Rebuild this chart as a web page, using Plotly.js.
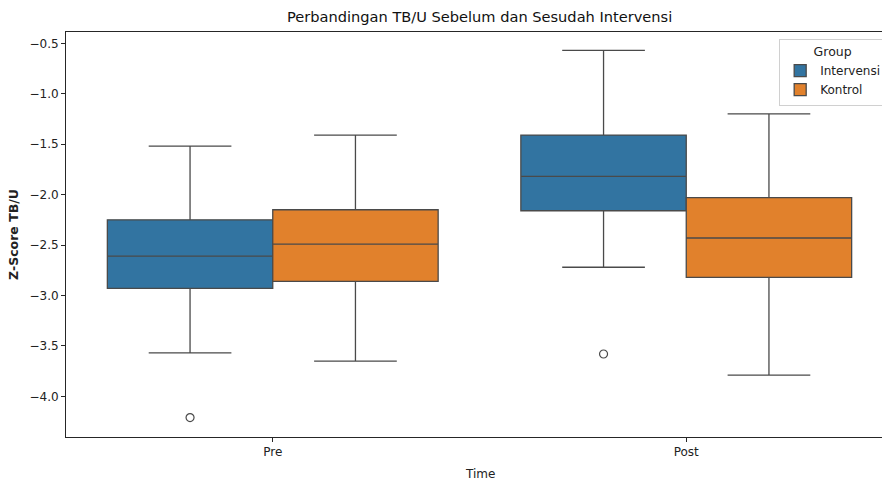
<!DOCTYPE html>
<html>
<head>
<meta charset="utf-8">
<script src="https://cdn.plot.ly/plotly-3.0.1.min.js"></script>
<style>html,body{margin:0;padding:0;background:#fff;}#chart{width:882px;height:483px;}</style>
</head>
<body>
<div id="chart"></div>
<script>
// Data
const times = ['Pre', 'Post'];
const groups = ['Intervensi', 'Kontrol'];
const colors = ['#3274a1', '#e1812c'];

const intervensiUpper = [-1.52, -0.57];
const intervensiQ3    = [-2.25, -1.41];
const intervensiMed   = [-2.61, -1.82];
const intervensiQ1    = [-2.93, -2.16];
const intervensiLower = [-3.57, -2.72];
const intervensiOutlierTime = ['Pre', 'Post'];
const intervensiOutlierVal  = [-4.21, -3.58];

const kontrolUpper = [-1.41, -1.20];
const kontrolQ3    = [-2.15, -2.03];
const kontrolMed   = [-2.49, -2.43];
const kontrolQ1    = [-2.86, -2.82];
const kontrolLower = [-3.65, -3.79];
const kontrolOutlierTime = [];
const kontrolOutlierVal  = [];

const yTickVals = [-4.0, -3.5, -3.0, -2.5, -2.0, -1.5, -1.0, -0.5];
const yTickText = ['\u22124.0', '\u22123.5', '\u22123.0', '\u22122.5', '\u22122.0', '\u22121.5', '\u22121.0', '\u22120.5'];

const stats = [
  {upper: intervensiUpper, q3: intervensiQ3, med: intervensiMed, q1: intervensiQ1, lower: intervensiLower, ot: intervensiOutlierTime, ov: intervensiOutlierVal},
  {upper: kontrolUpper, q3: kontrolQ3, med: kontrolMed, q1: kontrolQ1, lower: kontrolLower, ot: kontrolOutlierTime, ov: kontrolOutlierVal}
];

const lineCol = '#4a4a4a';
const groupWidth = 0.8;
const catIdx = t => times.indexOf(t);
const traces = [];
groups.forEach((g, gi) => {
  const s = stats[gi];
  traces.push({
    type: 'box', name: g, legendgroup: g,
    x: times.map((t, i) => i),
    q1: s.q1, median: s.med, q3: s.q3, lowerfence: s.lower, upperfence: s.upper,
    fillcolor: colors[gi], line: {color: lineCol, width: 1.3},
    whiskerwidth: 0.5, boxpoints: false, hoverinfo: 'y'
  });
});
groups.forEach((g, gi) => {
  const s = stats[gi];
  const off = (gi + 0.5) * (groupWidth / groups.length) - groupWidth / 2;
  traces.push({
    type: 'scatter', mode: 'markers', showlegend: false, legendgroup: g,
    x: s.ot.map(t => catIdx(t) + off), y: s.ov,
    marker: {symbol: 'circle-open', size: 8, color: lineCol, line: {width: 1.2, color: lineCol}},
    hoverinfo: 'y'
  });
});

const font = 'DejaVu Sans, sans-serif';
const layout = {
  width: 882, height: 483,
  margin: {l: 66, r: 0, t: 32, b: 46, autoexpand: false},
  paper_bgcolor: '#fff', plot_bgcolor: '#fff',
  font: {family: font, size: 12, color: '#222'},
  boxmode: 'group', boxgap: 1 - groupWidth, boxgroupgap: 0,
  showlegend: true,
  xaxis: {
    range: [-0.5, 1.4734], tickvals: [0, 1], ticktext: times,
    showgrid: false, zeroline: false, showline: true, mirror: true,
    linecolor: '#262626', linewidth: 1, ticks: 'outside', ticklen: 4, tickcolor: '#262626',
    tickfont: {size: 12}
  },
  yaxis: {
    range: [-4.403, -0.388], tickvals: yTickVals, ticktext: yTickText,
    showgrid: false, zeroline: false, showline: true, mirror: false,
    linecolor: '#262626', linewidth: 1, ticks: 'outside', ticklen: 4, tickcolor: '#262626',
    tickfont: {size: 12},
    title: {text: '<b>Z-Score TB/U</b>', font: {size: 12.5}, standoff: 8}
  },
  legend: {
    x: 0.874, y: 0.983, xanchor: 'left', yanchor: 'top',
    bgcolor: 'rgba(255,255,255,0.8)', bordercolor: '#d0d0d0', borderwidth: 1,
    font: {size: 12}, title: {text: 'Group', side: 'top center', font: {size: 12.5}},
    tracegroupgap: 0
  },
  annotations: [
    {text: 'Perbandingan TB/U Sebelum dan Sesudah Intervensi', xref: 'x', x: 0.5, yref: 'paper', y: 1, yshift: 16,
     showarrow: false, font: {size: 14.6, color: '#111'}, xanchor: 'center', yanchor: 'middle'},
    {text: 'Time', xref: 'x', x: 0.5, yref: 'paper', y: 0, yshift: -37,
     showarrow: false, font: {size: 12, color: '#222'}, xanchor: 'center', yanchor: 'middle'}
  ]
};

Plotly.newPlot('chart', traces, layout, {displayModeBar: false, staticPlot: true});
</script>
</body>
</html>
